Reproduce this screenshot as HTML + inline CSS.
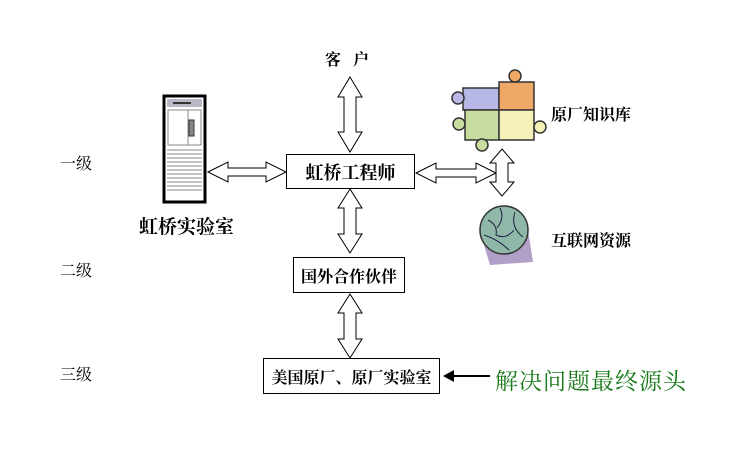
<!DOCTYPE html>
<html><head><meta charset="utf-8"><style>
body{margin:0;background:#fff;width:736px;height:454px;overflow:hidden;position:relative;font-family:"Liberation Serif","Noto Serif CJK SC","Noto Sans CJK SC",serif}
.t{position:absolute;white-space:nowrap;color:#000}
.s{font-family:"Liberation Serif","Noto Serif CJK SC",serif;font-weight:bold}
.b{position:absolute;border:1.5px solid #000;background:#fff;box-sizing:border-box;display:flex;align-items:center;justify-content:center;font-family:"Liberation Serif","Noto Serif CJK SC",serif;font-weight:bold}
</style></head><body>
<svg width="736" height="454" style="position:absolute;left:0;top:0">
<g fill="#fff" stroke="#000" stroke-width="1">
<polygon points="350,77 362,97 356,97 356,132 362,132 350,152 338,132 344,132 344,97 338,97"/>
<polygon points="350,189 362,208 356,208 356,234 362,234 350,253 338,234 344,234 344,208 338,208"/>
<polygon points="350,294 362,313 356,313 356,339 362,339 350,358 338,339 344,339 344,313 338,313"/>
<polygon points="208,172 228,162 228,168 266,168 266,162 286,172 266,182 266,176 228,176 228,182"/>
<polygon points="416,173 436,163 436,169 476,169 476,163 496,173 476,183 476,177 436,177 436,183"/>
<polygon points="502,149 514,163 508,163 508,182 514,182 502,196 490,182 496,182 496,163 490,163"/>
</g>
<line x1="452" y1="376" x2="490" y2="376" stroke="#000" stroke-width="2"/>
<polygon points="443,376 454,370 454,382" fill="#000"/>
<rect x="164" y="96" width="41" height="106" fill="#fff" stroke="#000" stroke-width="3"/>
<rect x="167" y="99" width="35" height="8" fill="#b8b8c8"/>
<rect x="173" y="102" width="18" height="2" fill="#333"/>
<rect x="168" y="110" width="20" height="35" fill="#fff" stroke="#888"/>
<rect x="188" y="110" width="13" height="35" fill="#fff" stroke="#888"/>
<rect x="189" y="120" width="5" height="16" fill="#888" stroke="#333"/>
<g stroke="#888"><line x1="167" y1="150" x2="202" y2="150"/><line x1="167" y1="154" x2="202" y2="154"/><line x1="167" y1="158" x2="202" y2="158"/><line x1="167" y1="162" x2="202" y2="162"/><line x1="167" y1="166" x2="202" y2="166"/><line x1="167" y1="170" x2="202" y2="170"/><line x1="167" y1="174" x2="202" y2="174"/><line x1="167" y1="178" x2="202" y2="178"/><line x1="167" y1="182" x2="202" y2="182"/><line x1="167" y1="186" x2="202" y2="186"/><line x1="167" y1="190" x2="202" y2="190"/></g>
<g stroke="#333" stroke-width="1.5">
<path d="M463,88 h36 v22 h-36 z" fill="#b8b8e6"/>
<path d="M499,82 h35 v28 h-35 z" fill="#f0a868"/>
<path d="M465,110 h34 v30 h-34 z" fill="#c8dca0"/>
<path d="M499,110 h35 v30 h-35 z" fill="#f5f0b8"/>
<circle cx="515" cy="76" r="6" fill="#f0a868"/>
<circle cx="458" cy="98" r="6" fill="#b8b8e6"/>
<circle cx="459" cy="124" r="6" fill="#c8dca0"/>
<circle cx="540" cy="127" r="6" fill="#f5f0b8"/>
<circle cx="482" cy="145" r="6" fill="#c8dca0"/>
</g>
<polygon points="484,245 528,230 533,262 490,265" fill="#b0a0c8"/>
<circle cx="504" cy="230" r="24" fill="#8fb8a8" stroke="#333" stroke-width="1.5"/>
<path d="M488,220 q10,5 8,15 q10,5 18,-5 M500,208 q5,10 -3,20 M515,212 q-5,15 8,25 M484,235 q15,5 25,15" stroke="#224" fill="none"/>
</svg>
<div class="t s" style="left:325px;top:47px;font-size:16px;letter-spacing:12px">客户</div>
<div class="b" style="left:286px;top:154px;width:129px;height:35px;font-size:18px">虹桥工程师</div>
<div class="b" style="left:293px;top:257px;width:112px;height:36px;font-size:16px">国外合作伙伴</div>
<div class="b" style="left:263px;top:358px;width:177px;height:36px;font-size:16px">美国原厂、原厂实验室</div>
<div class="t s" style="left:139px;top:212px;font-size:19px">虹桥实验室</div>
<div class="t s" style="left:551px;top:102px;font-size:16px">原厂知识库</div>
<div class="t s" style="left:551px;top:228px;font-size:16px">互联网资源</div>
<div class="t" style="left:60px;top:151px;font-size:16px">一级</div>
<div class="t" style="left:60px;top:258px;font-size:16px">二级</div>
<div class="t" style="left:60px;top:362px;font-size:16px">三级</div>
<div class="t" style="left:495px;top:363px;font-size:23px;color:#1a7a1a;letter-spacing:1px">解决问题最终源头</div>
</body></html>
